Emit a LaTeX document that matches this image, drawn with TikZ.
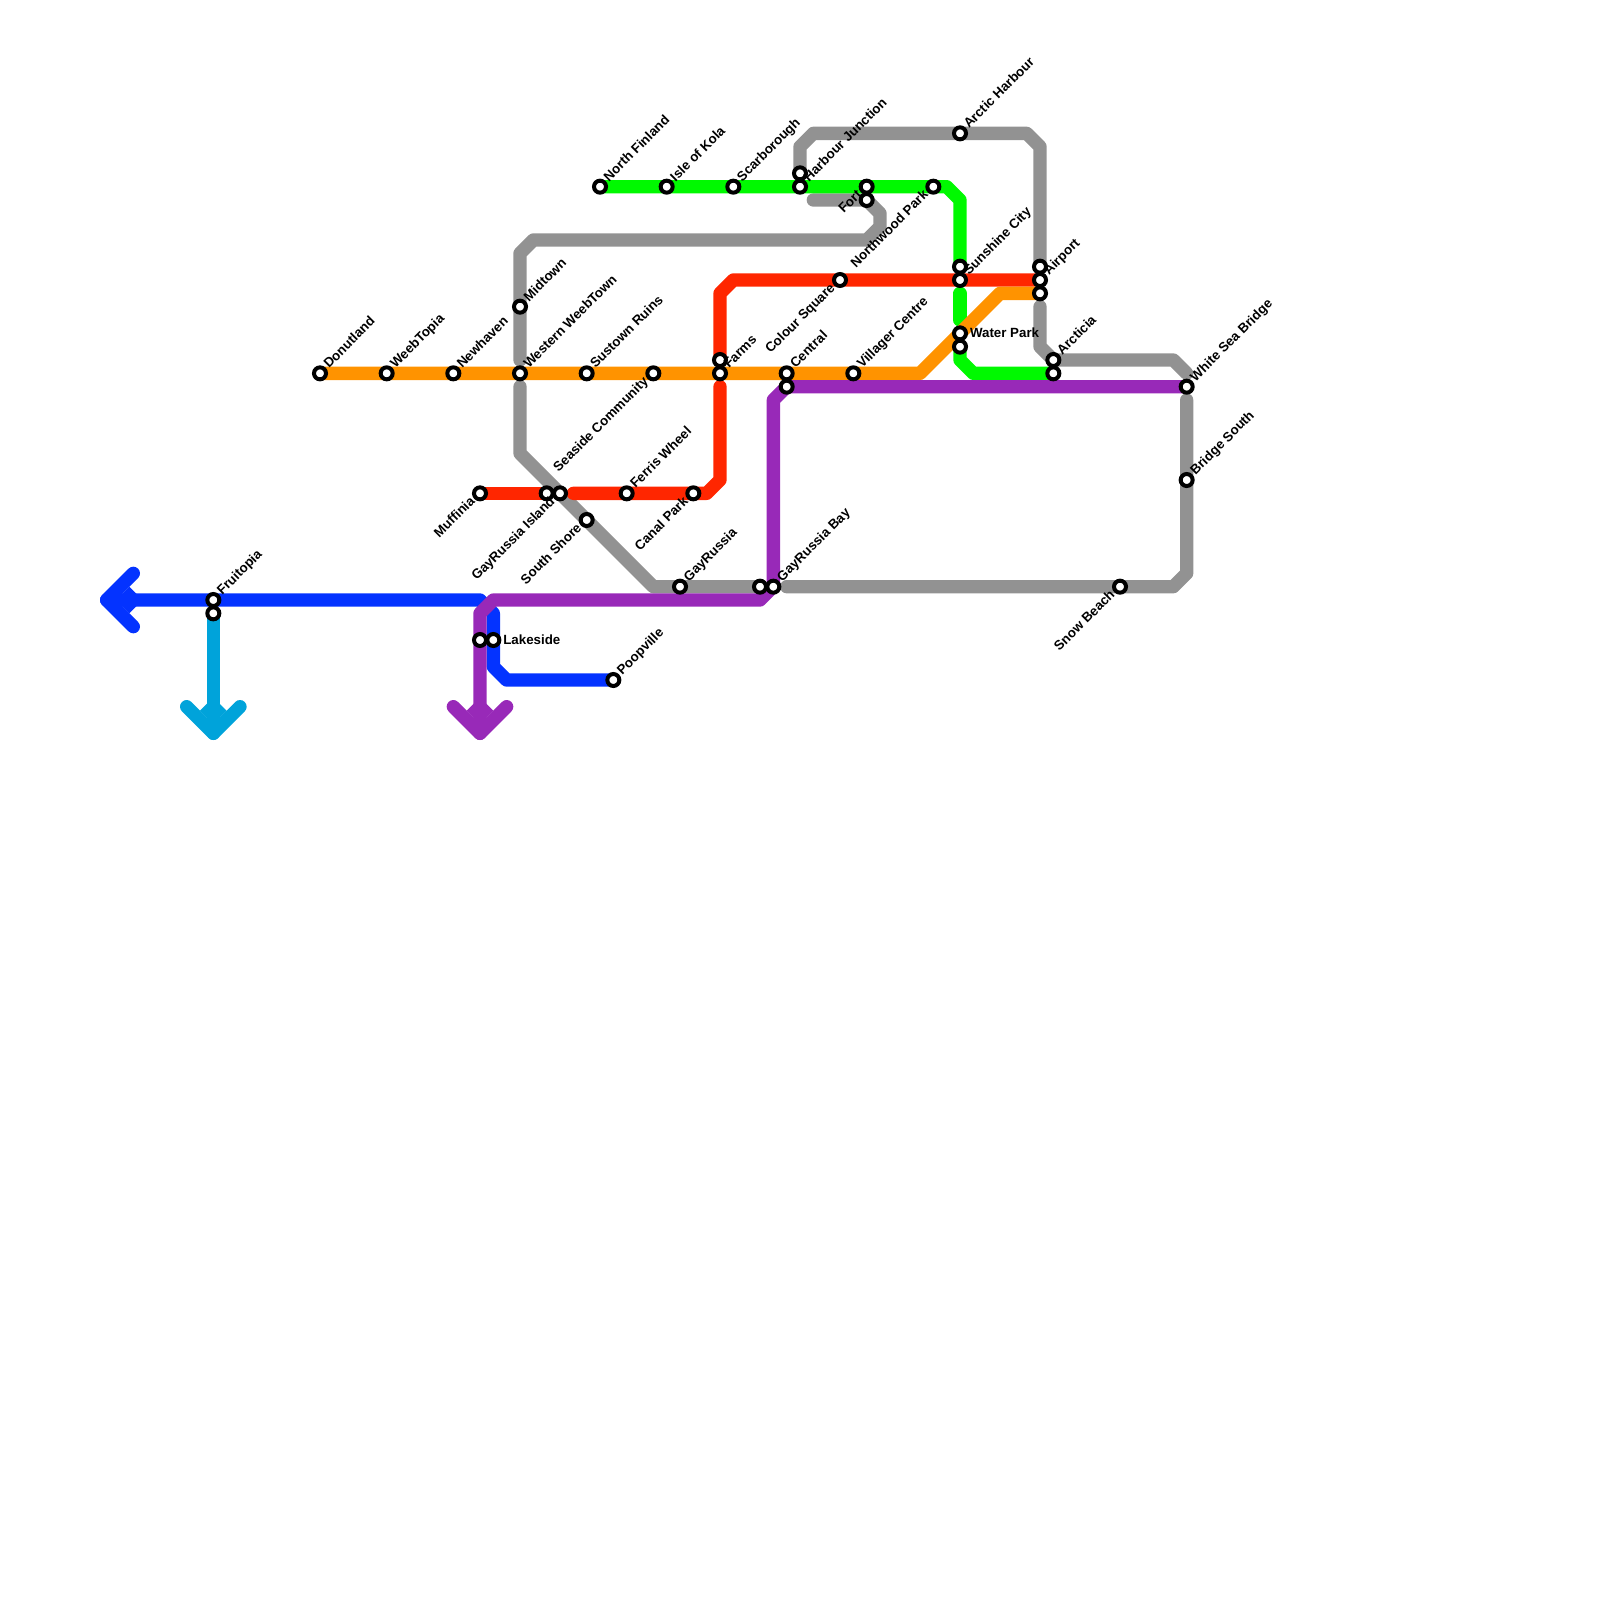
\documentclass[tikz,border=0pt]{standalone}
\usepackage{fontspec}
\setmainfont{Liberation Sans}
\usetikzlibrary{backgrounds}
\definecolor{mGray}{HTML}{929292}
\definecolor{mBlue}{HTML}{0433FF}
\definecolor{mCyan}{HTML}{00A3DA}
\definecolor{mRed}{HTML}{FF2600}
\definecolor{mOrange}{HTML}{FF9300}
\definecolor{mGreen}{HTML}{00F900}
\definecolor{mPurple}{HTML}{9829B8}
\tikzset{
  stn/.style={circle,draw=black,fill=white,line width=4pt,minimum size=12pt,inner sep=0pt,outer sep=0pt},
  ln/.style={line width=13.333pt,line cap=round,line join=round},
  lbl/.style={font=\bfseries\fontsize{13.33pt}{14pt}\selectfont,inner sep=0pt,outer sep=0pt},
  lur/.style={lbl,anchor=base west,xshift=9pt,yshift=4.5pt,rotate=45},
  lll/.style={lbl,anchor=base east,xshift=-4.5pt,yshift=-9pt,rotate=45},
  lrt/.style={lbl,anchor=west,xshift=10pt,yshift=0.5pt},
}
\newcommand{\stUR}[4]{\node[stn] (#1) at (#2,#3) {}; \node[lur] (#1L) at (#2,#3) {#4};}
\newcommand{\stLL}[4]{\node[stn] (#1) at (#2,#3) {}; \node[lll] (#1L) at (#2,#3) {#4};}
\newcommand{\stRT}[4]{\node[stn] (#1) at (#2,#3) {}; \node[lrt] (#1L) at (#2,#3) {#4};}
\newcommand{\stNO}[3]{\node[stn] (#1) at (#2,#3) {};}
\begin{document}
\begin{tikzpicture}[x=13.3333pt,y=-13.3333pt]
\useasboundingbox (0,0) rectangle (120,120);
% stations
\stUR{donut}{24}{28}{Donutland}
\stUR{webtopia}{29}{28}{WeebTopia}
\stUR{newhaven}{34}{28}{Newhaven}
\stUR{western}{39}{28}{Western WeebTown}
\stUR{sustown}{44}{28}{Sustown Ruins}
\stLL{seaside}{49}{28}{Seaside Community}
\stNO{farmsb}{54}{27}
\stUR{farms}{54}{28}{Farms}
\stUR{central}{59}{28}{Central}
\stNO{centralb}{59}{29}
\stUR{villager}{64}{28}{Villager Centre}
\stUR{midtown}{39}{23}{Midtown}
\stLL{muffinia}{36}{37}{Muffinia}
\stNO{gayislandb}{41}{37}
\stLL{gayisland}{42}{37}{GayRussia Island}
\stUR{ferris}{47}{37}{Ferris Wheel}
\stLL{canal}{52}{37}{Canal Park}
\stLL{south}{44}{39}{South Shore}
\stUR{gayrussia}{51}{44}{GayRussia}
\stNO{gaybaya}{57}{44}
\stUR{gaybay}{58}{44}{GayRussia Bay}
\stLL{snow}{84}{44}{Snow Beach}
\stUR{bridges}{89}{36}{Bridge South}
\stUR{whitesea}{89}{29}{White Sea Bridge}
\stUR{arcticia}{79}{27}{Arcticia}
\stNO{arcticiab}{79}{28}
\stNO{airport}{78}{20}
\stUR{airportb}{78}{21}{Airport}
\stNO{airportc}{78}{22}
\stNO{sunshine}{72}{20}
\stUR{sunshineb}{72}{21}{Sunshine City}
\stRT{water}{72}{25}{Water Park}
\stNO{waterb}{72}{26}
\stLL{colour}{63}{21}{Colour Square}
\stUR{northf}{45}{14}{North Finland}
\stUR{kola}{50}{14}{Isle of Kola}
\stUR{scar}{55}{14}{Scarborough}
\stNO{harbour}{60}{13}
\stUR{harbourb}{60}{14}{Harbour Junction}
\stLL{fortb}{65}{14}{Fort}
\stNO{fort}{65}{15}
\stLL{northwood}{70}{14}{Northwood Park}
\stUR{arctic}{72}{10}{Arctic Harbour}
\stUR{fruitopia}{16}{45}{Fruitopia}
\stNO{fruitopiab}{16}{46}
\stNO{lakea}{36}{48}
\stRT{lakeside}{37}{48}{Lakeside}
\stUR{poop}{46}{51}{Poopville}
% bend points
\foreach \n/\x/\y in {
  bA/69/28,bB/75/22,
  rA/43/37,rB/53/37,rC/54/36,rD/54/29,rE/54/22,rF/55/21,
  gA/39/27,gB/39/19,gC/40/18,gD/65/18,gE/66/17,gF/66/16,gG/61/15,
  hA/39/29,hB/39/34,hC/49/44,hD/59/44,hE/88/44,hF/89/43,hG/89/30,
  iA/78/23,iB/78/26,iC/88/27,iD/89/28,
  jA/78/11,jB/77/10,jC/61/10,jD/60/11,
  nA/71/14,nB/72/15,nC/72/22,nD/72/24,nE/72/27,nF/73/28,
  pA/58/30,pB/57/45,pC/37/45,pD/36/46,pE/36/55,pF/34/53,pG/38/53,
  uA/8/45,uB/10/43,uC/10/47,uD/36/45,uE/37/46,uF/37/50,uG/38/51,
  cA/16/55,cB/14/53,cC/18/53}
  {\coordinate (\n) at (\x,\y);}
\begin{pgfonlayer}{background}
% gray
\draw[ln,mGray] (gA) -- (gB) -- (gC) -- (gD) -- (gE) -- (gF) -- (fort.center) -- (gG);
\draw[ln,mGray] (hA) -- (hB) -- (hC) -- (gaybaya.center);
\draw[ln,mGray] (hD) -- (hE) -- (hF) -- (hG);
\draw[ln,mGray] (iA) -- (iB) -- (arcticia.center) -- (iC) -- (iD);
\draw[ln,mGray] (airport.center) -- (jA) -- (jB) -- (jC) -- (jD) -- (harbour.center);
% blue
\draw[ln,mBlue] (uB) -- (uA) -- (uC);
\draw[ln,mBlue] (uA) -- (uD) -- (uE) -- (uF) -- (uG) -- (poop.center);
\fill[mBlue] (10.7,45) -- (9.7,44) -- (8.7,45) -- (9.7,46) -- cycle;
% cyan
\draw[ln,mCyan] (fruitopiab.center) -- (cA);
\draw[ln,mCyan] (cB) -- (cA) -- (cC);
\fill[mCyan] (16,52.3) -- (17,53.3) -- (16,54.3) -- (15,53.3) -- cycle;
% red
\draw[ln,mRed] (muffinia.center) -- (gayislandb.center);
\draw[ln,mRed] (rA) -- (rB) -- (rC) -- (rD);
\draw[ln,mRed] (farmsb.center) -- (rE) -- (rF) -- (airportb.center);
% green
\draw[ln,mGreen] (northf.center) -- (nA) -- (nB) -- (sunshine.center);
\draw[ln,mGreen] (nC) -- (nD);
\draw[ln,mGreen] (waterb.center) -- (nE) -- (nF) -- (arcticiab.center);
% orange
\draw[ln,mOrange] (donut.center) -- (bA) -- (bB) -- (airportc.center);
% purple
\draw[ln,mPurple] (whitesea.center) -- (centralb.center) -- (pA) -- (gaybay.center) -- (pB) -- (pC) -- (pD) -- (pE);
\draw[ln,mPurple] (pF) -- (pE) -- (pG);
\fill[mPurple] (36,52.3) -- (37,53.3) -- (36,54.3) -- (35,53.3) -- cycle;
\end{pgfonlayer}
\end{tikzpicture}
\end{document}
